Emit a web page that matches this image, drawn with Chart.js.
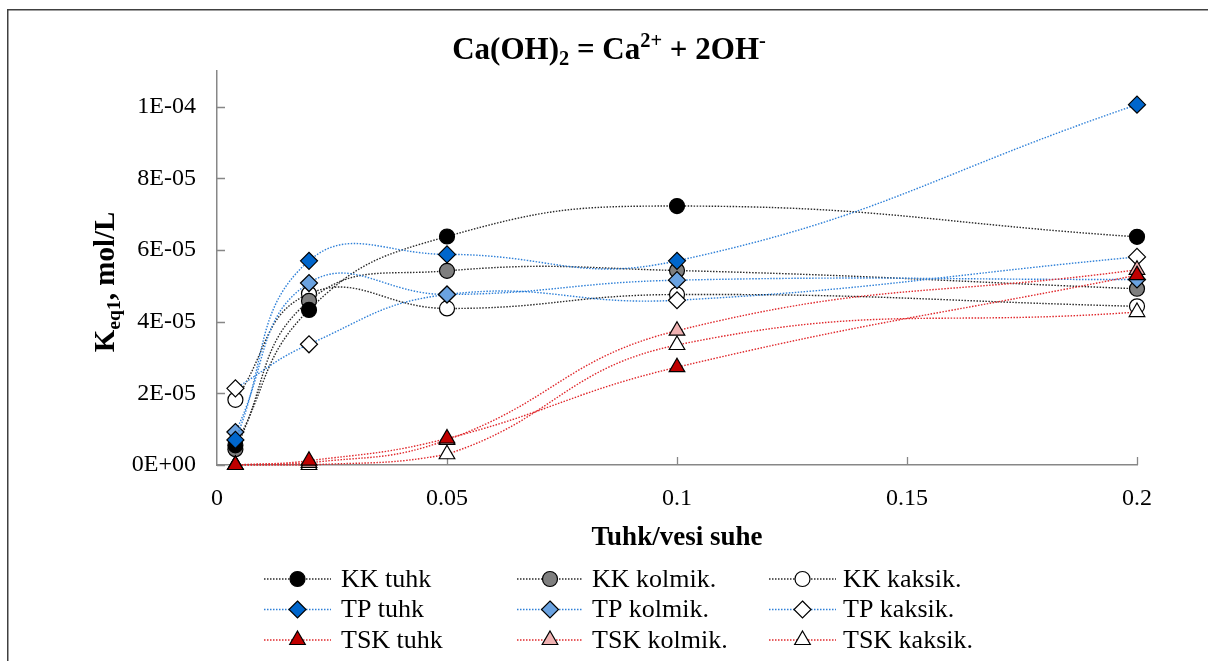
<!DOCTYPE html>
<html>
<head>
<meta charset="utf-8">
<script src="https://cdn.jsdelivr.net/npm/chart.js@4/dist/chart.umd.min.js"></script>
<style>
  html, body { margin: 0; padding: 0; background: #fff; overflow: hidden; }
  canvas { display: block; }
</style>
</head>
<body>
<canvas id="chart" width="1208" height="661"></canvas>
<script>
// Ash/water ratio (x) and equilibrium constant values (mol/L) per ash type and fraction
const ratios = [0.004, 0.02, 0.05, 0.1, 0.2];

const kkTuhk    = [5.5e-6, 4.33e-5, 6.38e-5, 7.23e-5, 6.37e-5];
const kkKolmik  = [4.4e-6, 4.58e-5, 5.42e-5, 5.43e-5, 4.92e-5];
const kkKaksik  = [1.82e-5, 4.78e-5, 4.37e-5, 4.76e-5, 4.43e-5];

const tpTuhk    = [7.0e-6, 5.70e-5, 5.88e-5, 5.70e-5, 1.006e-4];
const tpKolmik  = [9.2e-6, 5.08e-5, 4.76e-5, 5.16e-5, 5.18e-5];
const tpKaksik  = [2.14e-5, 3.37e-5, 4.76e-5, 4.60e-5, 5.81e-5];

const tskTuhk   = [0, 1.2e-6, 7.4e-6, 2.73e-5, 5.30e-5];
const tskKolmik = [0, 0.6e-6, 7.0e-6, 3.75e-5, 5.45e-5];
const tskKaksik = [0, 0, 3.0e-6, 3.35e-5, 4.27e-5];

const seriesNames = ['KK tuhk', 'KK kolmik.', 'KK kaksik.',
                     'TP tuhk', 'TP kolmik.', 'TP kaksik.',
                     'TSK tuhk', 'TSK kolmik.', 'TSK kaksik.'];

const xTickValues = [0, 0.05, 0.1, 0.15, 0.2];
const xTickLabels = ['0', '0.05', '0.1', '0.15', '0.2'];
const yTickValues = [0, 2e-5, 4e-5, 6e-5, 8e-5, 1e-4];
const yTickLabels = ['0E+00', '2E-05', '4E-05', '6E-05', '8E-05', '1E-04'];

const SERIF = '"Liberation Serif", "Times New Roman", serif';

// Visual style per group (KK, TP, TSK) and per fraction (tuhk, kolmik, kaksik)
const groupLine  = ['#2a2a2a', '#2f80d8', '#e0282c'];
const groupShape = ['circle', 'rectRot', 'triangle'];
const groupRadius = [7.5, 8.5, 9];
const fills = [
  ['#000000', '#7f7f7f', '#ffffff'],
  ['#0066cc', '#6aa2e0', '#ffffff'],
  ['#c00000', '#efb2b2', '#ffffff']
];
const values = [
  [kkTuhk, kkKolmik, kkKaksik],
  [tpTuhk, tpKolmik, tpKaksik],
  [tskTuhk, tskKolmik, tskKaksik]
];

const datasets = [];
for (let g = 0; g < 3; g++) {
  for (let m = 0; m < 3; m++) {
    datasets.push({
      label: seriesNames[g * 3 + m],
      data: ratios.map((x, i) => ({ x, y: values[g][m][i] })),
      showLine: true,
      tension: 0.45,
      borderColor: groupLine[g],
      borderWidth: 1.4,
      borderDash: [1.5, 1.5],
      pointStyle: groupShape[g],
      pointRadius: groupRadius[g],
      pointBackgroundColor: fills[g][m],
      pointBorderColor: '#000000',
      pointBorderWidth: 1.2,
      clip: false,
      order: (2 - g) * 3 + m
    });
  }
}

function labelFor(v, vals, labels) {
  for (let i = 0; i < vals.length; i++) {
    if (Math.abs(v - vals[i]) < 1e-9) return labels[i];
  }
  return '';
}

function drawMarker(ctx, shape, x, y, r, fill, stroke, bw) {
  ctx.save();
  ctx.beginPath();
  if (shape === 'circle') {
    ctx.arc(x, y, r, 0, Math.PI * 2);
  } else if (shape === 'rectRot') {
    ctx.moveTo(x, y - r); ctx.lineTo(x + r, y); ctx.lineTo(x, y + r); ctx.lineTo(x - r, y);
  } else {
    const a = Math.PI * 2 / 3;
    ctx.moveTo(x, y - r);
    ctx.lineTo(x + Math.sin(a) * r, y - Math.cos(a) * r);
    ctx.lineTo(x + Math.sin(2 * a) * r, y - Math.cos(2 * a) * r);
  }
  ctx.closePath();
  ctx.fillStyle = fill; ctx.fill();
  ctx.lineWidth = bw; ctx.strokeStyle = stroke; ctx.stroke();
  ctx.restore();
}

// Text runs with sub/superscripts
function runsWidth(ctx, runs, size) {
  let w = 0;
  for (const r of runs) {
    ctx.font = 'bold ' + (r.s ? size * r.s : size) + 'px ' + SERIF;
    w += ctx.measureText(r.t).width;
  }
  return w;
}
function drawRuns(ctx, runs, size, x, y) {
  for (const r of runs) {
    const fs = r.s ? size * r.s : size;
    ctx.font = 'bold ' + fs + 'px ' + SERIF;
    ctx.fillText(r.t, x, y + (r.dy || 0) * size);
    x += ctx.measureText(r.t).width;
  }
}

const frame = {
  id: 'frame',
  beforeDraw(chart) {
    const ctx = chart.ctx;
    ctx.save();
    ctx.fillStyle = '#ffffff';
    ctx.fillRect(0, 0, chart.width, chart.height);
    ctx.strokeStyle = '#404040';
    ctx.lineWidth = 1.5;
    ctx.beginPath();
    ctx.moveTo(7.75, chart.height + 2);
    ctx.lineTo(7.75, 9.75);
    ctx.lineTo(chart.width + 2, 9.75);
    ctx.stroke();
    ctx.restore();
  },
  beforeDatasetsDraw(chart) {
    // inward tick marks on both axes
    const ctx = chart.ctx, xs = chart.scales.x, ys = chart.scales.y;
    const a = chart.chartArea;
    ctx.save();
    ctx.strokeStyle = '#878787';
    ctx.lineWidth = 1.3;
    ctx.beginPath();
    for (const v of yTickValues) {
      const py = Math.round(ys.getPixelForValue(v)) + 0.5;
      ctx.moveTo(a.left, py); ctx.lineTo(a.left + 8, py);
    }
    for (const v of xTickValues) {
      if (v === 0) continue;
      const px = Math.round(xs.getPixelForValue(v)) + 0.5;
      ctx.moveTo(px, a.bottom); ctx.lineTo(px, a.bottom - 8);
    }
    ctx.stroke();
    ctx.restore();
  },
  afterDraw(chart) {
    const ctx = chart.ctx;
    ctx.save();
    ctx.fillStyle = '#000000';
    ctx.textBaseline = 'alphabetic';
    ctx.textAlign = 'left';

    // Title: Ca(OH)2 = Ca2+ + 2OH-
    const title = [
      { t: 'Ca(OH)' }, { t: '2', s: 0.66, dy: 0.2 }, { t: ' = Ca' },
      { t: '2+', s: 0.66, dy: -0.38 }, { t: ' + 2OH' }, { t: '-', s: 0.66, dy: -0.38 }
    ];
    const tSize = 31;
    const tw = runsWidth(ctx, title, tSize);
    drawRuns(ctx, title, tSize, 609 - tw / 2, 59);

    // Y axis title: K_eq1, mol/L
    const yTitle = [{ t: 'K' }, { t: 'eq1', s: 0.68, dy: 0.22 }, { t: ', mol/L' }];
    const ySize = 29;
    const yw = runsWidth(ctx, yTitle, ySize);
    ctx.save();
    ctx.translate(114, 282);
    ctx.rotate(-Math.PI / 2);
    drawRuns(ctx, yTitle, ySize, -yw / 2, 0);
    ctx.restore();

    // X axis title
    ctx.font = 'bold 27px ' + SERIF;
    ctx.textAlign = 'center';
    ctx.fillText('Tuhk/vesi suhe', 677, 545);

    // Legend: 3 x 3 grid
    const colLine = [[264, 331], [517, 583], [769, 836]];
    const colText = [341, 592, 843];
    const rowY = [579, 609.5, 640];
    ctx.textAlign = 'left';
    ctx.textBaseline = 'middle';
    ctx.font = '26px ' + SERIF;
    for (let g = 0; g < 3; g++) {
      for (let m = 0; m < 3; m++) {
        const ds = datasets[g * 3 + m];
        const y = rowY[g];
        ctx.save();
        ctx.strokeStyle = ds.borderColor;
        ctx.lineWidth = ds.borderWidth;
        ctx.setLineDash(ds.borderDash);
        ctx.beginPath();
        ctx.moveTo(colLine[m][0], y); ctx.lineTo(colLine[m][1], y);
        ctx.stroke();
        ctx.restore();
        drawMarker(ctx, ds.pointStyle, (colLine[m][0] + colLine[m][1]) / 2, y,
                   ds.pointRadius, ds.pointBackgroundColor, '#000000', ds.pointBorderWidth);
        ctx.fillStyle = '#000000';
        ctx.font = '26px ' + SERIF;
        ctx.fillText(ds.label, colText[m], y + 1);
      }
    }
    ctx.restore();
  }
};

new Chart(document.getElementById('chart'), {
  type: 'scatter',
  data: { datasets },
  plugins: [frame],
  options: {
    responsive: false,
    animation: false,
    events: [],
    layout: { padding: { left: 0, top: 71, right: 71, bottom: 0 } },
    plugins: { legend: { display: false }, tooltip: { enabled: false }, title: { display: false } },
    scales: {
      x: {
        type: 'linear',
        min: 0, max: 0.2,
        afterFit(s) { s.height = 661 - 465; },
        grid: { display: false, drawTicks: false },
        border: { display: true, color: '#878787', width: 1.5 },
        ticks: {
          stepSize: 0.05,
          padding: 19,
          color: '#000000',
          font: { family: SERIF, size: 24 },
          maxRotation: 0,
          callback: (v) => labelFor(v, xTickValues, xTickLabels)
        }
      },
      y: {
        type: 'linear',
        min: 0, max: 1.1e-4,
        afterFit(s) { s.width = 217; },
        grid: { display: false, drawTicks: false },
        border: { display: true, color: '#878787', width: 1.5 },
        ticks: {
          stepSize: 2e-5,
          includeBounds: false,
          padding: 21,
          color: '#000000',
          font: { family: SERIF, size: 24 },
          callback: (v) => labelFor(v, yTickValues, yTickLabels)
        }
      }
    }
  }
});
</script>
</body>
</html>
